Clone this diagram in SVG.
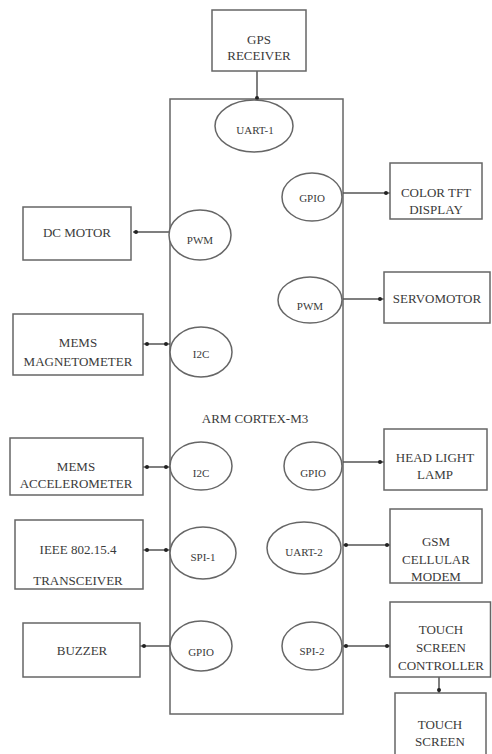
<svg xmlns="http://www.w3.org/2000/svg" width="492" height="754" viewBox="0 0 492 754">
<style>
.box{fill:#fff;stroke:#666;stroke-width:1.5}
.port{fill:#fff;stroke:#666;stroke-width:1.5}
.wire{fill:none;stroke:#555;stroke-width:1.5}
.dot{fill:#222}
.t{font-family:"Liberation Serif","Times New Roman",serif;font-size:13px;fill:#3a3a3a;text-anchor:middle}
.p{font-family:"Liberation Serif","Times New Roman",serif;font-size:11px;fill:#3a3a3a;text-anchor:middle}
</style>
<rect width="492" height="754" fill="#fff"/>
<g id="mcu">
<rect class="box" x="170" y="99" width="173" height="615"/>
<text class="t" x="255" y="423">ARM CORTEX-M3</text>
</g>
<g id="connectors">
<line class="wire" x1="257" y1="71" x2="257" y2="99"/>
<circle class="dot" cx="257" cy="98" r="2"/>
<line class="wire" x1="133" y1="232" x2="170" y2="232"/>
<circle class="dot" cx="136" cy="232" r="2"/>
<line class="wire" x1="143" y1="344" x2="170" y2="344"/>
<circle class="dot" cx="147" cy="344" r="2"/>
<circle class="dot" cx="166" cy="344" r="2"/>
<line class="wire" x1="143" y1="467" x2="170" y2="467"/>
<circle class="dot" cx="147" cy="467" r="2"/>
<circle class="dot" cx="166" cy="467" r="2"/>
<line class="wire" x1="143" y1="550" x2="170" y2="550"/>
<circle class="dot" cx="147" cy="550" r="2"/>
<circle class="dot" cx="166" cy="550" r="2"/>
<line class="wire" x1="140" y1="646" x2="170" y2="646"/>
<circle class="dot" cx="144" cy="646" r="2"/>
<line class="wire" x1="343" y1="193" x2="390" y2="193"/>
<circle class="dot" cx="386" cy="193" r="2"/>
<line class="wire" x1="343" y1="299" x2="384" y2="299"/>
<circle class="dot" cx="380" cy="299" r="2"/>
<line class="wire" x1="343" y1="462" x2="384" y2="462"/>
<circle class="dot" cx="380" cy="462" r="2"/>
<line class="wire" x1="343" y1="545" x2="390" y2="545"/>
<circle class="dot" cx="346" cy="545" r="2"/>
<circle class="dot" cx="387" cy="545" r="2"/>
<line class="wire" x1="343" y1="646" x2="390" y2="646"/>
<circle class="dot" cx="346" cy="646" r="2"/>
<circle class="dot" cx="387" cy="646" r="2"/>
<line class="wire" x1="439" y1="677" x2="439" y2="693"/>
<circle class="dot" cx="439" cy="690" r="2"/>
</g>
<g id="uart1"><ellipse class="port" cx="254" cy="126" rx="39" ry="26"/><text class="p" x="255" y="134">UART-1</text></g>
<g id="pwm-left"><ellipse class="port" cx="200" cy="235" rx="31" ry="25"/><text class="p" x="200" y="244">PWM</text></g>
<g id="i2c-1"><ellipse class="port" cx="201" cy="352" rx="31" ry="25"/><text class="p" x="201" y="358">I2C</text></g>
<g id="i2c-2"><ellipse class="port" cx="201" cy="466" rx="31" ry="24"/><text class="p" x="201" y="477">I2C</text></g>
<g id="spi1"><ellipse class="port" cx="203" cy="553" rx="33" ry="26"/><text class="p" x="203" y="561">SPI-1</text></g>
<g id="gpio-left"><ellipse class="port" cx="201" cy="646" rx="31" ry="25"/><text class="p" x="201" y="656">GPIO</text></g>
<g id="gpio-top"><ellipse class="port" cx="312" cy="197" rx="30" ry="24"/><text class="p" x="312" y="202">GPIO</text></g>
<g id="pwm-right"><ellipse class="port" cx="310" cy="300" rx="32" ry="23"/><text class="p" x="310" y="310">PWM</text></g>
<g id="gpio-mid"><ellipse class="port" cx="313" cy="466" rx="29" ry="24"/><text class="p" x="313" y="477">GPIO</text></g>
<g id="uart2"><ellipse class="port" cx="304" cy="548" rx="37" ry="26"/><text class="p" x="304" y="556">UART-2</text></g>
<g id="spi2"><ellipse class="port" cx="312" cy="646" rx="30" ry="24"/><text class="p" x="312" y="655">SPI-2</text></g>
<g id="gps"><rect class="box" x="212" y="10" width="94" height="61"/><text class="t" x="259" y="44">GPS</text><text class="t" x="259" y="60">RECEIVER</text></g>
<g id="dc-motor"><rect class="box" x="23" y="207" width="108" height="53"/><text class="t" x="77" y="237">DC MOTOR</text></g>
<g id="magnetometer"><rect class="box" x="13" y="314" width="130" height="61"/><text class="t" x="78" y="347">MEMS</text><text class="t" x="78" y="366">MAGNETOMETER</text></g>
<g id="accelerometer"><rect class="box" x="10" y="438" width="133" height="57"/><text class="t" x="76" y="471">MEMS</text><text class="t" x="76" y="488">ACCELEROMETER</text></g>
<g id="transceiver"><rect class="box" x="15" y="520" width="128" height="69"/><text class="t" x="78" y="554">IEEE 802.15.4</text><text class="t" x="78" y="585">TRANSCEIVER</text></g>
<g id="buzzer"><rect class="box" x="23" y="623" width="117" height="54"/><text class="t" x="82" y="655">BUZZER</text></g>
<g id="tft"><rect class="box" x="390" y="163" width="92" height="56"/><text class="t" x="436" y="197">COLOR TFT</text><text class="t" x="436" y="214">DISPLAY</text></g>
<g id="servo"><rect class="box" x="384" y="272" width="106" height="51"/><text class="t" x="437" y="303">SERVOMOTOR</text></g>
<g id="headlight"><rect class="box" x="384" y="429" width="103" height="61"/><text class="t" x="435" y="462">HEAD LIGHT</text><text class="t" x="435" y="479">LAMP</text></g>
<g id="gsm"><rect class="box" x="390" y="509" width="92" height="74"/><text class="t" x="436" y="546">GSM</text><text class="t" x="436" y="564">CELLULAR</text><text class="t" x="436" y="581">MODEM</text></g>
<g id="touch-controller"><rect class="box" x="390" y="602" width="100.5" height="75"/><text class="t" x="441" y="634">TOUCH</text><text class="t" x="441" y="652">SCREEN</text><text class="t" x="441" y="670">CONTROLLER</text></g>
<g id="touch-screen"><rect class="box" x="395" y="693" width="91" height="62"/><text class="t" x="440" y="729">TOUCH</text><text class="t" x="440" y="746">SCREEN</text></g>
</svg>
